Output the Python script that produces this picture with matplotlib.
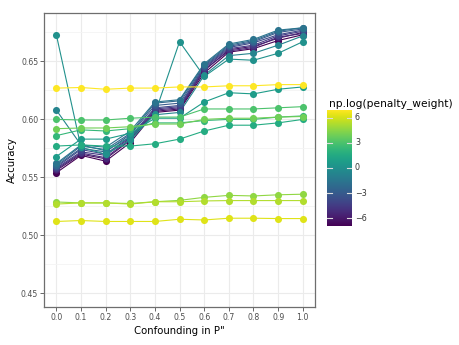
import numpy as np
import matplotlib
matplotlib.use("Agg")
from matplotlib import pyplot as plt
from matplotlib.colors import Normalize

# datos
confounding = [0.0, 0.1, 0.2, 0.3, 0.4, 0.5, 0.6, 0.7, 0.8, 0.9, 1.0]
penalty_weight = [0.001, 0.002, 0.005, 0.01, 0.02, 0.05, 0.1, 0.2, 0.5, 1,
                  2, 5, 10, 20, 50, 100, 200, 500, 1000]
accuracy = [
    [0.554, 0.569, 0.564, 0.580, 0.606, 0.608, 0.640, 0.658, 0.661, 0.668, 0.673],
    [0.556, 0.570, 0.566, 0.582, 0.607, 0.609, 0.642, 0.660, 0.663, 0.670, 0.675],
    [0.557, 0.571, 0.567, 0.583, 0.608, 0.610, 0.643, 0.659, 0.662, 0.671, 0.674],
    [0.558, 0.572, 0.569, 0.584, 0.609, 0.611, 0.644, 0.661, 0.664, 0.672, 0.676],
    [0.559, 0.574, 0.570, 0.585, 0.610, 0.612, 0.645, 0.662, 0.666, 0.673, 0.677],
    [0.560, 0.575, 0.572, 0.587, 0.612, 0.614, 0.646, 0.663, 0.667, 0.675, 0.678],
    [0.561, 0.577, 0.574, 0.588, 0.614, 0.616, 0.647, 0.664, 0.668, 0.676, 0.679],
    [0.562, 0.578, 0.576, 0.590, 0.615, 0.617, 0.648, 0.665, 0.669, 0.677, 0.679],
    [0.608, 0.578, 0.573, 0.585, 0.604, 0.606, 0.638, 0.655, 0.657, 0.664, 0.672],
    [0.673, 0.576, 0.570, 0.582, 0.605, 0.667, 0.637, 0.652, 0.651, 0.657, 0.667],
    [0.568, 0.583, 0.583, 0.588, 0.601, 0.601, 0.615, 0.623, 0.622, 0.626, 0.628],
    [0.577, 0.578, 0.577, 0.577, 0.579, 0.583, 0.590, 0.595, 0.595, 0.597, 0.600],
    [0.586, 0.591, 0.590, 0.592, 0.597, 0.597, 0.599, 0.600, 0.600, 0.602, 0.603],
    [0.600, 0.5995, 0.5995, 0.601, 0.602, 0.602, 0.609, 0.609, 0.609, 0.610, 0.611],
    [0.592, 0.5926, 0.5926, 0.5937, 0.596, 0.596, 0.600, 0.601, 0.601, 0.602, 0.6025],
    [0.5288, 0.528, 0.528, 0.5275, 0.529, 0.5302, 0.5328, 0.5345, 0.534, 0.535, 0.5355],
    [0.527, 0.528, 0.528, 0.527, 0.529, 0.529, 0.5297, 0.530, 0.530, 0.530, 0.530],
    [0.512, 0.5128, 0.512, 0.512, 0.512, 0.5139, 0.5133, 0.5148, 0.5148, 0.5145, 0.5145],
    [0.627, 0.6275, 0.626, 0.627, 0.627, 0.628, 0.628, 0.629, 0.629, 0.630, 0.630],
]
y_ticks = [0.45, 0.50, 0.55, 0.60, 0.65]
cbar_ticks = [-6, -3, 0, 3, 6]

log_w = np.log(penalty_weight)
norm = Normalize(vmin=log_w.min(), vmax=log_w.max())
cmap = plt.get_cmap("viridis")

fig = plt.figure(figsize=(4.6, 3.45), dpi=100)
ax = fig.add_axes([0.0957, 0.111, 0.5893, 0.8505])

for lw_, acc in zip(log_w, accuracy):
    ax.plot(confounding, acc, color=cmap(norm(lw_)), lw=0.8, zorder=2)
for lw_, acc in zip(log_w, accuracy):
    ax.scatter(confounding, acc, color=cmap(norm(lw_)), s=26, lw=0, zorder=3)

ax.set_xlim(-0.05, 1.05)
ax.set_ylim(0.45 - 0.0115, 0.68 + 0.0115)
ax.set_xticks(confounding)
ax.set_xticklabels([f"{c:.1f}" for c in confounding])
ax.set_yticks(y_ticks)
ax.set_yticklabels([f"{t:.2f}" for t in y_ticks])
ax.set_yticks([0.475, 0.525, 0.575, 0.625, 0.675], minor=True)
ax.grid(True, which="major", color="#ebebeb", lw=0.8, zorder=0)
ax.grid(True, which="minor", axis="y", color="#f4f4f4", lw=0.6, zorder=0)
ax.set_axisbelow(True)
ax.tick_params(which="major", labelsize=5.6, colors="#4d4d4d", length=3, width=0.6, pad=1.2)
ax.tick_params(which="minor", length=0)
for sp in ax.spines.values():
    sp.set_color("#6e6e6e")
    sp.set_linewidth(0.9)
ax.set_xlabel('Confounding in P"', fontsize=7.3, labelpad=3)
ax.set_ylabel("Accuracy", fontsize=7.3, labelpad=3)

# barra de color estilo ggplot
cax = fig.add_axes([327 / 460, 1 - 226 / 345, 25 / 460, 116 / 345])
grad = np.linspace(log_w.min(), log_w.max(), 256).reshape(-1, 1)
cax.imshow(grad, aspect="auto", cmap=cmap, norm=norm, origin="lower",
           extent=[0, 1, log_w.min(), log_w.max()])
cax.set_xlim(0, 1)
cax.set_ylim(log_w.min(), log_w.max())
for t in cbar_ticks:
    cax.plot([0, 0.2], [t, t], color="#dddddd", lw=0.8)
    cax.plot([0.8, 1], [t, t], color="#dddddd", lw=0.8)
    cax.text(1.12, t, f"{t}".replace("-", "\u2212"), fontsize=5.8, color="#333333",
             va="center", ha="left")
cax.set_xticks([])
cax.set_yticks([])
for sp in cax.spines.values():
    sp.set_visible(False)
fig.text(329 / 460, 1 - 104 / 345, "np.log(penalty_weight)", fontsize=7.7,
         va="center", ha="left")

fig.savefig("out.png", dpi=100)
